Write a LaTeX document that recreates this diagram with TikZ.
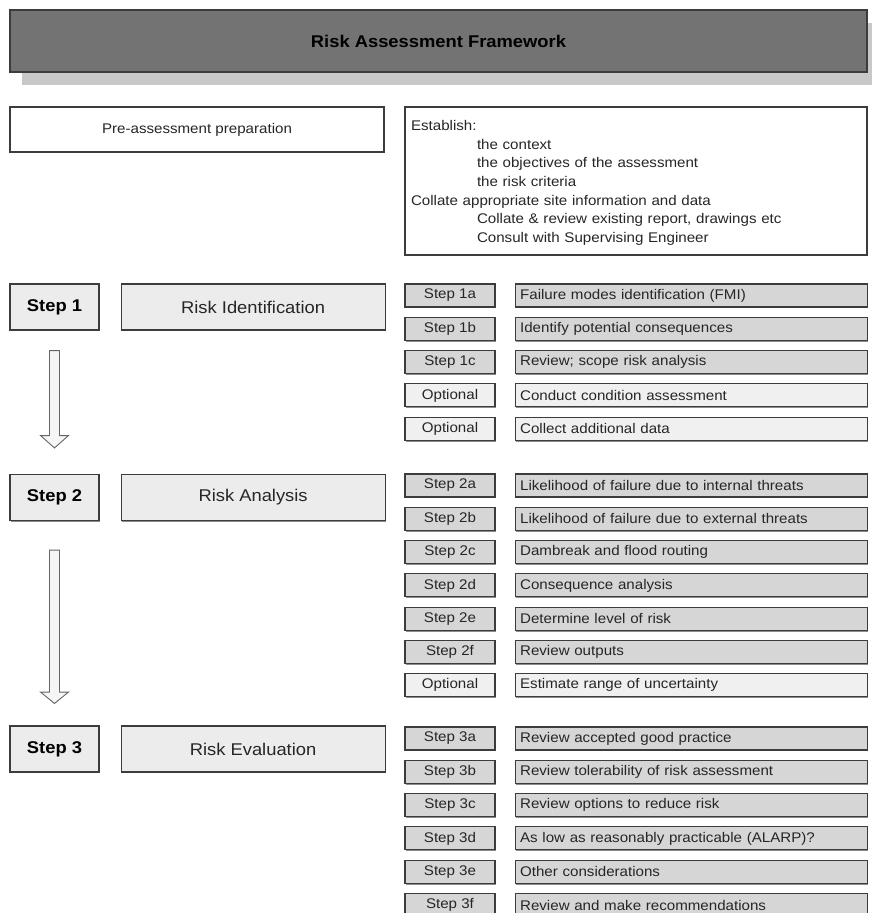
\documentclass[tikz,border=0pt]{standalone}
\usepackage{fontspec}
\setmainfont{Liberation Sans}[FakeStretch=1.08]
\usepackage{xcolor}
\usetikzlibrary{positioning,calc,shadows}
\definecolor{edgegray}{HTML}{3C3C3C}
\definecolor{titlegray}{HTML}{737373}
\definecolor{shadegray}{HTML}{C8C8C8}
\definecolor{rowdark}{HTML}{D6D6D6}
\definecolor{rowlight}{HTML}{F0F0F0}
\definecolor{stepfill}{HTML}{ECECEC}
\tikzset{
  base/.style={draw=edgegray, line width=1.1pt, inner sep=0pt, text=black!85, font=\fontsize{14}{16}\selectfont,
    drop shadow={shadow xshift=1.3pt, shadow yshift=-1.3pt, fill=black!45, opacity=1}},
  titlebox/.style={base, fill=titlegray, text=black, font=\bfseries\fontsize{17}{20}\selectfont, minimum width=857pt, minimum height=62pt,
    drop shadow={shadow xshift=12pt, shadow yshift=-13pt, fill=shadegray, opacity=1}},
  prebox/.style={base, fill=white, minimum width=374pt, minimum height=45pt},
  listbox/.style={base, fill=white, minimum width=462pt, minimum height=148pt, inner xsep=6pt, text width=450pt, align=left,
    font=\fontsize{14}{18.7}\selectfont},
  stepbox/.style={base, fill=stepfill, text=black, font=\bfseries\fontsize{17}{20}\selectfont, minimum width=89pt, minimum height=46pt},
  phasebox/.style={base, fill=stepfill, font=\fontsize{17}{20}\selectfont, minimum width=264pt, minimum height=46pt},
  labdark/.style={base, fill=rowdark, minimum width=90pt, minimum height=23pt},
  lablight/.style={labdark, fill=rowlight},
  descdark/.style={base, fill=rowdark, minimum height=23pt, inner xsep=5pt, text width=342pt, align=left},
  desclight/.style={descdark, fill=rowlight},
  downarrow/.style={draw=black!60, fill=black!4, line width=0.9pt, line join=miter}
}

\begin{document}
\begin{tikzpicture}[x=1pt, y=-1pt, node distance=9.2pt and 19pt]
  \useasboundingbox (0,0) rectangle (872,913);

  % Header
  \node[titlebox] (title) at (438.5,41) {Risk Assessment Framework};
  \node[prebox] (pre) at (197,129.5) {Pre-assessment preparation};
  \node[listbox] (establish) at (636,181) {\rule{0pt}{14pt}Establish:\\
    \hspace*{66pt}the context\\
    \hspace*{66pt}the objectives of the assessment\\
    \hspace*{66pt}the risk criteria\\
    Collate appropriate site information and data\\
    \hspace*{66pt}Collate \& review existing report, drawings etc\\
    \hspace*{66pt}Consult with Supervising Engineer};

  % Step 1
  \node[stepbox] (step1) at (54.5,307) {Step 1};
  \node[phasebox, right=21pt of step1] (ident) {Risk Identification};
  \node[labdark] (lab1a) at (450,295.5) {Step 1a};
  \node[descdark, right=of lab1a] (desc1a) {Failure modes identification (FMI)};
  \node[labdark, below=of lab1a] (lab1b) {Step 1b};
  \node[descdark, right=of lab1b] (desc1b) {Identify potential consequences};
  \node[labdark, below=of lab1b] (lab1c) {Step 1c};
  \node[descdark, right=of lab1c] (desc1c) {Review; scope risk analysis};
  \node[lablight, below=of lab1c] (lab1d) {Optional};
  \node[desclight, right=of lab1d] (desc1d) {Conduct condition assessment};
  \node[lablight, below=of lab1d] (lab1e) {Optional};
  \node[desclight, right=of lab1e] (desc1e) {Collect additional data};

  % Step 2
  \node[stepbox] (step2) at (54.5,497.5) {Step 2};
  \node[phasebox, right=21pt of step2] (analysis) {Risk Analysis};
  \node[labdark] (lab2a) at (450,485.5) {Step 2a};
  \node[descdark, right=of lab2a] (desc2a) {Likelihood of failure due to internal threats};
  \node[labdark, below=of lab2a] (lab2b) {Step 2b};
  \node[descdark, right=of lab2b] (desc2b) {Likelihood of failure due to external threats};
  \node[labdark, below=of lab2b] (lab2c) {Step 2c};
  \node[descdark, right=of lab2c] (desc2c) {Dambreak and flood routing};
  \node[labdark, below=of lab2c] (lab2d) {Step 2d};
  \node[descdark, right=of lab2d] (desc2d) {Consequence analysis};
  \node[labdark, below=of lab2d] (lab2e) {Step 2e};
  \node[descdark, right=of lab2e] (desc2e) {Determine level of risk};
  \node[labdark, below=of lab2e] (lab2f) {Step 2f};
  \node[descdark, right=of lab2f] (desc2f) {Review outputs};
  \node[lablight, below=of lab2f] (lab2g) {Optional};
  \node[desclight, right=of lab2g] (desc2g) {Estimate range of uncertainty};

  % Step 3
  \node[stepbox] (step3) at (54.5,749) {Step 3};
  \node[phasebox, right=21pt of step3] (evaluation) {Risk Evaluation};
  \node[labdark] (lab3a) at (450,738.5) {Step 3a};
  \node[descdark, right=of lab3a] (desc3a) {Review accepted good practice};
  \node[labdark, below=of lab3a] (lab3b) {Step 3b};
  \node[descdark, right=of lab3b] (desc3b) {Review tolerability of risk assessment};
  \node[labdark, below=of lab3b] (lab3c) {Step 3c};
  \node[descdark, right=of lab3c] (desc3c) {Review options to reduce risk};
  \node[labdark, below=of lab3c] (lab3d) {Step 3d};
  \node[descdark, right=of lab3d] (desc3d) {As low as reasonably practicable (ALARP)?};
  \node[labdark, below=of lab3d] (lab3e) {Step 3e};
  \node[descdark, right=of lab3e] (desc3e) {Other considerations};
  \node[labdark, below=of lab3e] (lab3f) {Step 3f};
  \node[descdark, right=of lab3f] (desc3f) {Review and make recommendations};

  % Block arrows between steps
  \draw[downarrow] ($(step1.south)+(-5,20)$) -- ++(10,0) -- ++(0,85) -- ++(9,0) -- ($(step2.north)+(0,-26)$)
    -- ($(step1.south)+(-14,105)$) -- ++(9,0) -- cycle;
  \draw[downarrow] ($(step2.south)+(-5,29)$) -- ++(10,0) -- ++(0,142) -- ++(9,0) -- ($(step3.north)+(0,-22)$)
    -- ($(step2.south)+(-14,171)$) -- ++(9,0) -- cycle;
\end{tikzpicture}
\end{document}
